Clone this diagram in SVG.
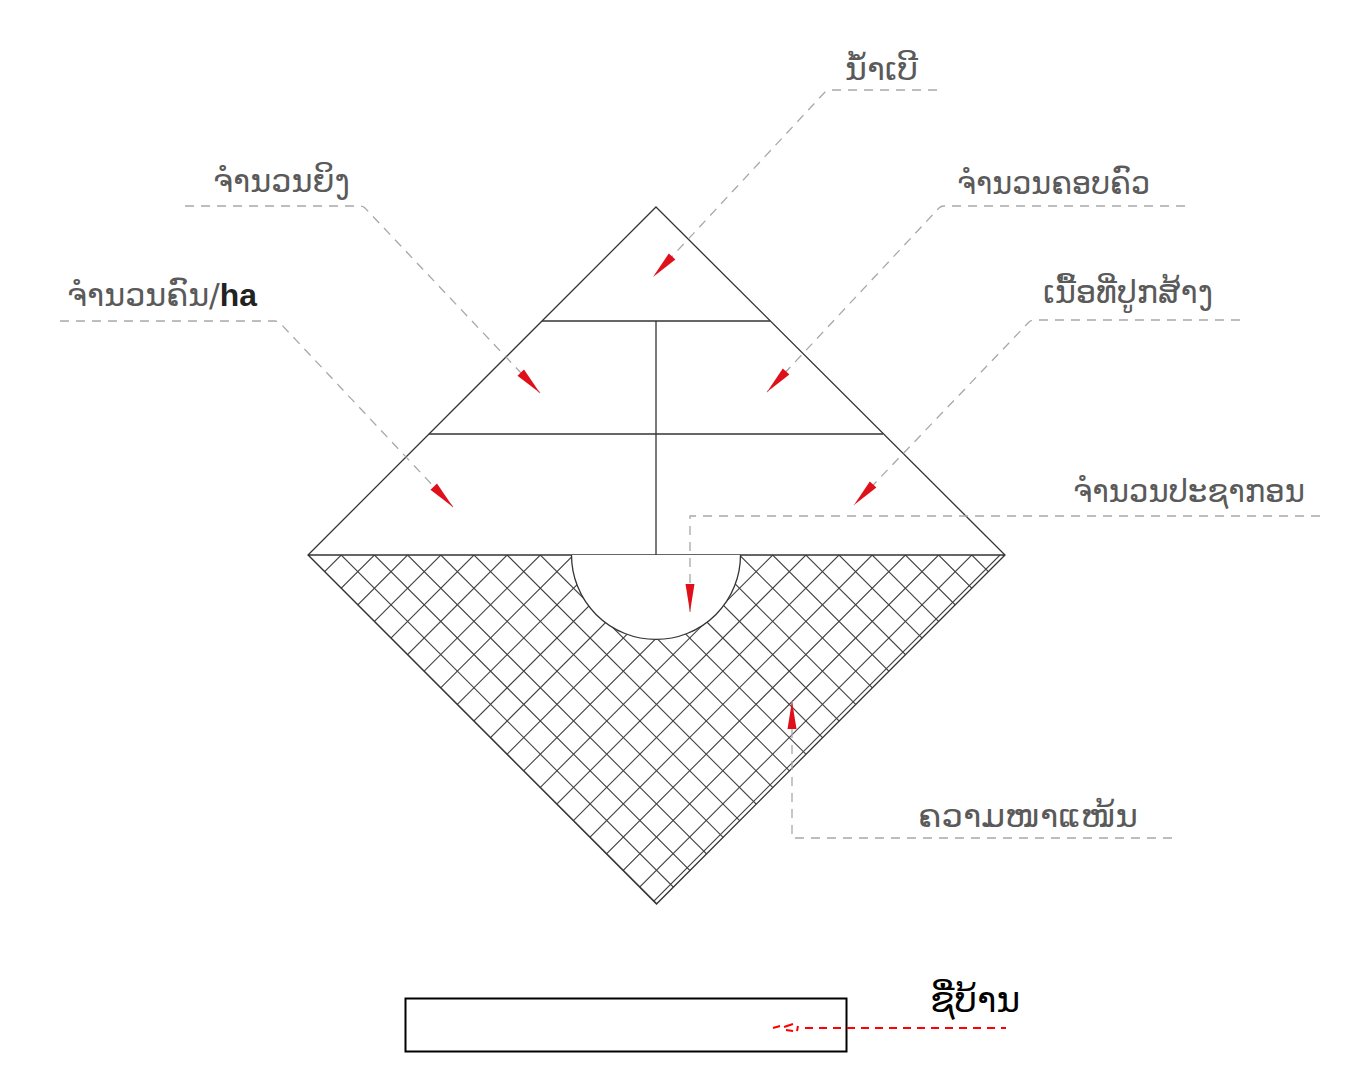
<svg xmlns="http://www.w3.org/2000/svg" xmlns:xlink="http://www.w3.org/1999/xlink" width="1349" height="1082" viewBox="0 0 1349 1082">
<style>
.lbl{font-family:"DejaVu Sans","Noto Sans",sans-serif;font-size:32px;fill:#5a5a5a;text-anchor:start}
.lead{fill:none;stroke:#a8a8a8;stroke-width:1.3;stroke-dasharray:9 7}
.edge{fill:none;stroke:#333;stroke-width:1.3}
.hatch{fill:none;stroke:#444;stroke-width:1.1}
.ah{fill:#e0101a}
</style>
<defs>
<path id="ah" d="M0,0 L-28,-4.5 L-28,4.5 Z"/>
<clipPath id="lowTri"><polygon points="308,555 1005,555 656.5,904"/></clipPath>
</defs>
<rect width="1349" height="1082" fill="#fff"/>

<g id="hatching" clip-path="url(#lowTri)">
<path class="hatch" d="M308,555l349,349M341.2,555l349,349M374.4,555l349,349M407.6,555l349,349M440.8,555l349,349M474,555l349,349M507.1,555l349,349M540.3,555l349,349M573.5,555l349,349M606.7,555l349,349M639.9,555l349,349M673.1,555l349,349M706.3,555l349,349M739.5,555l349,349M772.7,555l349,349M805.9,555l349,349M839,555l349,349M872.2,555l349,349M905.4,555l349,349M938.6,555l349,349M971.8,555l349,349M1003,555l349,349"/>
<path class="hatch" d="M310,555l-349,349M341.2,555l-349,349M374.4,555l-349,349M407.6,555l-349,349M440.8,555l-349,349M474,555l-349,349M507.1,555l-349,349M540.3,555l-349,349M573.5,555l-349,349M606.7,555l-349,349M639.9,555l-349,349M673.1,555l-349,349M706.3,555l-349,349M739.5,555l-349,349M772.7,555l-349,349M805.9,555l-349,349M839,555l-349,349M872.2,555l-349,349M905.4,555l-349,349M938.6,555l-349,349M971.8,555l-349,349M1000,555l-349,349"/>
</g>

<g id="pyramid">
<polygon class="edge" points="656,207 1005,555 656.5,904 308,555"/>
<line class="edge" x1="308" y1="555" x2="1005" y2="555"/>
<line class="edge" x1="542" y1="321" x2="770" y2="321"/>
<line class="edge" x1="429" y1="434" x2="883" y2="434"/>
<line class="edge" x1="656" y1="321" x2="656" y2="555"/>
<path d="M571.5,555 A84.5,84.5 0 0 0 740.5,555 Z" fill="#fff" stroke="none"/>
<path class="edge" d="M571.5,555 A84.5,84.5 0 0 0 740.5,555"/>
</g>

<g id="connectors">
<path class="lead" d="M937,90 H830 Q827,90 825,92 L653,277"/>
<path class="lead" d="M185,206 H360 Q363,206 365,208 L540,393"/>
<path class="lead" d="M60,321 H275 Q278,321 280,323 L453,507"/>
<path class="lead" d="M1185,206 H944 Q941,206 939,208 L767,392"/>
<path class="lead" d="M1240,320 H1034 Q1031,320 1029,322 L854,505"/>
<path class="lead" d="M1320,516 H690 V612"/>
<path class="lead" d="M1172,838 H792 V701"/>
<use href="#ah" class="ah" transform="translate(653,277) rotate(133)"/>
<use href="#ah" class="ah" transform="translate(540,393) rotate(46.5)"/>
<use href="#ah" class="ah" transform="translate(453,507) rotate(46.5)"/>
<use href="#ah" class="ah" transform="translate(767,392) rotate(133)"/>
<use href="#ah" class="ah" transform="translate(854,505) rotate(133)"/>
<use href="#ah" class="ah" transform="translate(690,612) rotate(90)"/>
<use href="#ah" class="ah" transform="translate(792,701) rotate(-90)"/>
</g>

<g id="label-nam-boe"><text class="lbl" x="845" y="80" textLength="73" lengthAdjust="spacingAndGlyphs">ນ້ຳເບີ</text></g>
<g id="label-ying"><text class="lbl" x="213" y="192" textLength="137" lengthAdjust="spacingAndGlyphs">ຈຳນວນຍິງ</text></g>
<g id="label-khon-ha"><text class="lbl" x="67" y="306" textLength="190" lengthAdjust="spacingAndGlyphs">ຈຳນວນຄົນ/<tspan style="font-family:'Liberation Sans',Arial,sans-serif;font-weight:bold;fill:#222">ha</tspan></text></g>
<g id="label-khopkhua"><text class="lbl" x="957" y="194" textLength="193" lengthAdjust="spacingAndGlyphs">ຈຳນວນຄອບຄົວ</text></g>
<g id="label-nuea-thi"><text class="lbl" x="1043" y="303" textLength="170" lengthAdjust="spacingAndGlyphs">ເນື້ອທີ່ປູກສ້າງ</text></g>
<g id="label-pasakon"><text class="lbl" x="1073" y="502" textLength="232" lengthAdjust="spacingAndGlyphs">ຈຳນວນປະຊາກອນ</text></g>
<g id="label-khuam-na"><text class="lbl" x="918" y="827" textLength="220" lengthAdjust="spacingAndGlyphs">ຄວາມໜາແໜ້ນ</text></g>

<g id="village-name">
<rect x="405.5" y="998.5" width="441" height="53" fill="#fff" stroke="#000" stroke-width="2"/>
<path d="M805,1028 H1006" fill="none" stroke="#f00" stroke-width="2" stroke-dasharray="8 6"/>
<path d="M773,1028 l7,-2 M784,1027 l9,-3 M786,1030 l7,1 M797,1031 l1,-5" fill="none" stroke="#f00" stroke-width="2"/>
<text x="975" y="1012" style="font-family:'DejaVu Sans','Noto Sans',sans-serif;font-size:36px;fill:#000;text-anchor:middle">ຊື່ບ້ານ</text>
</g>
</svg>
